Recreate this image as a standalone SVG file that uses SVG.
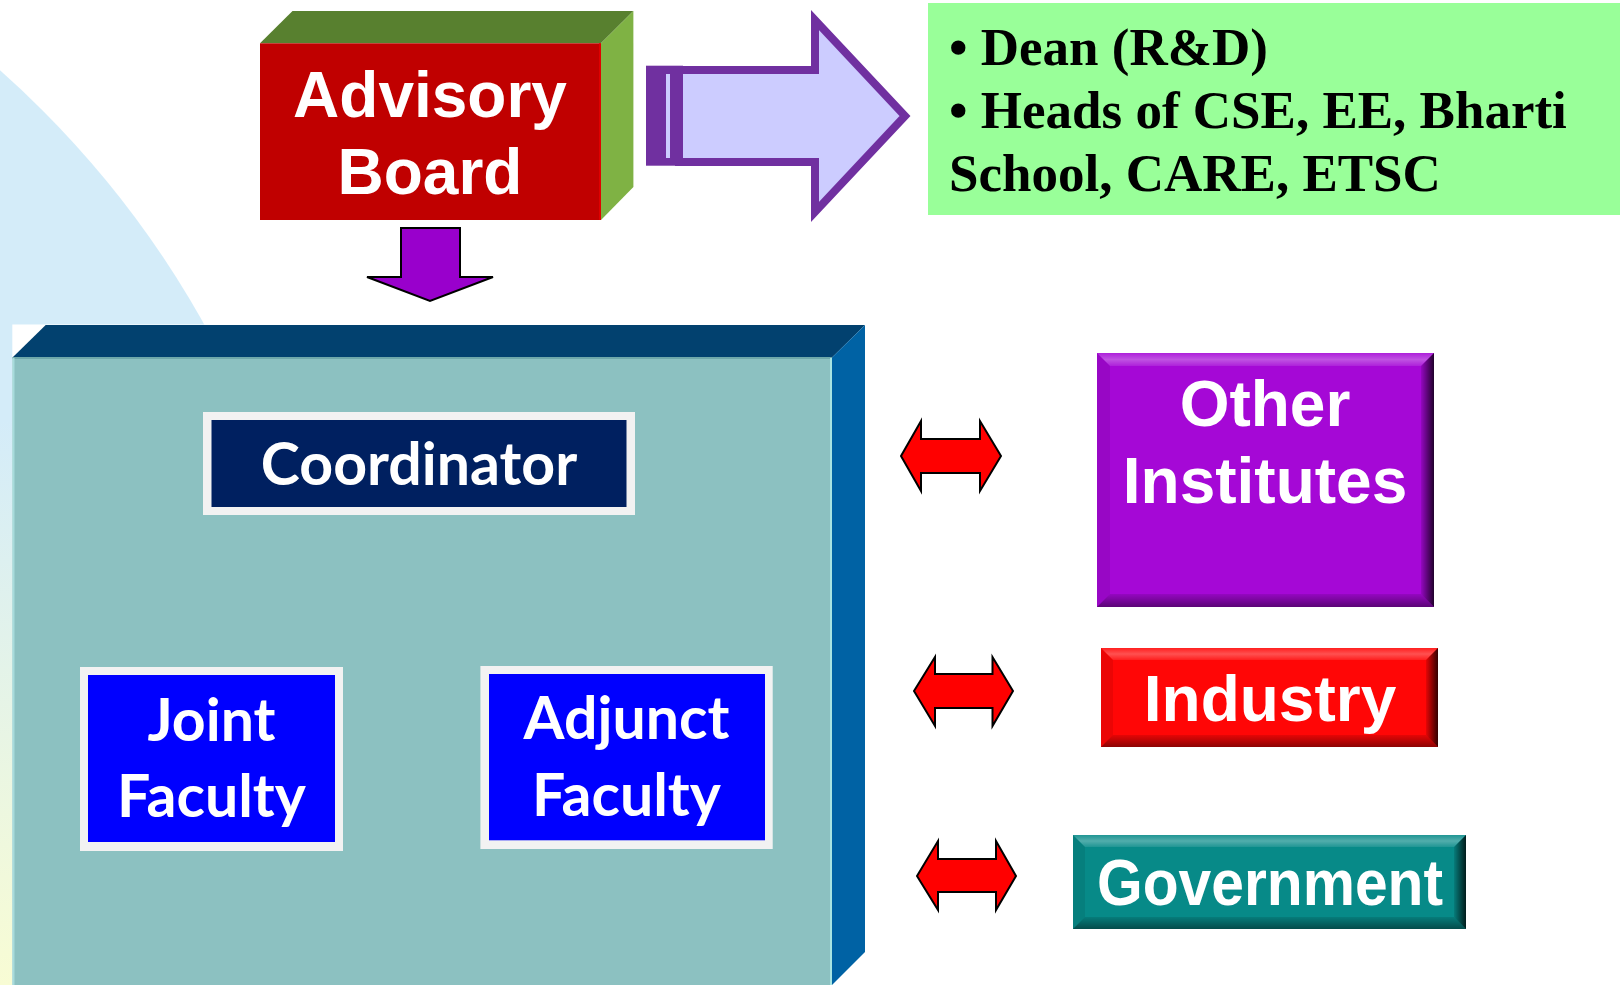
<svg xmlns="http://www.w3.org/2000/svg" width="1622" height="985" viewBox="0 0 1622 985">
<style>
.ar{font-family:"Liberation Sans",Arial,sans-serif;font-weight:bold;fill:#fff;text-anchor:middle}
.cb{font-family:Lato,"Open Sans",sans-serif;font-weight:bold;fill:#fff;text-anchor:middle}
.tm{font-family:"Liberation Serif","Times New Roman",serif;font-weight:bold;fill:#000}
.dbl{fill:#FF0000;stroke:#000;stroke-width:2;stroke-linejoin:miter}
</style>
<defs>
<linearGradient id="bgG" gradientUnits="userSpaceOnUse" x1="0" y1="420" x2="0" y2="985">
<stop offset="0" stop-color="#D4ECF9"/><stop offset="1" stop-color="#F8FCD4"/>
</linearGradient>
<linearGradient id="bvR" x1="0" y1="0" x2="1" y2="0">
<stop offset="0" stop-color="#000" stop-opacity="0.1"/><stop offset="1" stop-color="#000" stop-opacity="0.8"/>
</linearGradient>
<linearGradient id="bvB" x1="0" y1="0" x2="0" y2="1">
<stop offset="0" stop-color="#000" stop-opacity="0.1"/><stop offset="1" stop-color="#000" stop-opacity="0.45"/>
</linearGradient>
<linearGradient id="bvT" x1="0" y1="0" x2="0" y2="1">
<stop offset="0" stop-color="#fff" stop-opacity="0.1"/><stop offset="0.5" stop-color="#fff" stop-opacity="0.3"/><stop offset="1" stop-color="#fff" stop-opacity="0.1"/>
</linearGradient>
</defs>
<rect width="1622" height="985" fill="#fff"/>
<circle cx="-644" cy="797" r="971" fill="url(#bgG)"/>

<g id="advisory-board">
<polygon points="260,43.3 292.5,11 633.4,11 601,43.3" fill="#58802F"/>
<polygon points="601,43.3 633.4,11 633.4,187 601,220" fill="#7FB244"/>
<rect x="260" y="43.3" width="341" height="176.7" fill="#C00000"/>
<line x1="600" y1="43.3" x2="600" y2="220" stroke="#E00000" stroke-width="2"/>
<text class="ar" x="430" y="117" font-size="64">Advisory</text>
<text class="ar" x="430" y="194" font-size="64">Board</text>
</g>

<g id="members">
<rect x="928" y="3" width="692" height="212" fill="#99FF99"/>
<text class="tm" x="949" y="65" font-size="53">• Dean (R&amp;D)</text>
<text class="tm" x="949" y="128" font-size="53">• Heads of CSE, EE, Bharti</text>
<text class="tm" x="949" y="191" font-size="53">School, CARE, ETSC</text>
</g>

<g id="centre">
<rect x="12.3" y="324.5" width="853" height="661" fill="#fff"/>
<polygon points="12.5,357.5 45.7,325 865,325 832,357.5" fill="#02416F"/>
<polygon points="832,357.5 865,325 865,952 832,985" fill="#0062A4"/>
<rect x="12.5" y="357.5" width="819.5" height="628" fill="#8CC1C1"/>
<line x1="12.5" y1="358" x2="832" y2="358" stroke="#6FA8AA" stroke-width="2"/>
<line x1="831" y1="358" x2="831" y2="985" stroke="#A8E4E2" stroke-width="2"/>
<line x1="13.5" y1="358" x2="13.5" y2="985" stroke="#A8DCDC" stroke-width="2"/>
</g>

<g id="coordinator">
<rect x="203" y="412" width="432" height="103" fill="#F2F2F2"/>
<rect x="211.5" y="420" width="415" height="87" fill="#002060"/>
<text class="cb" x="419" y="485" font-size="59">Coordinator</text>
</g>

<g id="joint-faculty">
<rect x="80" y="667" width="263" height="184" fill="#F2F2F2"/>
<rect x="88" y="675" width="247" height="167" fill="#0000FF"/>
<text class="cb" x="211.5" y="741" font-size="59">Joint</text>
<text class="cb" x="211.5" y="817" font-size="59">Faculty</text>
</g>

<g id="adjunct-faculty">
<rect x="480.4" y="666" width="292.3" height="183" fill="#F2F2F2"/>
<rect x="489" y="674" width="276" height="166.3" fill="#0000FF"/>
<text class="cb" x="626.5" y="739" font-size="59">Adjunct</text>
<text class="cb" x="626.5" y="816" font-size="59">Faculty</text>
</g>

<g id="other-institutes">
<rect x="1097" y="353" width="337" height="254" fill="#A508D6"/>
<polygon points="1097,353 1434,353 1421,366 1110,366" fill="url(#bvT)"/>
<polygon points="1097,607 1434,607 1421,594 1110,594" fill="url(#bvB)"/>
<polygon points="1097,353 1110,366 1110,594 1097,607" fill="#000" fill-opacity="0.08"/>
<polygon points="1434,353 1421,366 1421,594 1434,607" fill="url(#bvR)"/>
<text class="ar" x="1265" y="426" font-size="64">Other</text>
<text class="ar" x="1265" y="503" font-size="64">Institutes</text>
</g>

<g id="industry">
<rect x="1101" y="648" width="337" height="99" fill="#FF0606"/>
<polygon points="1101,648 1438,648 1426,660 1113,660" fill="url(#bvT)"/>
<polygon points="1101,747 1438,747 1426,735 1113,735" fill="url(#bvB)"/>
<polygon points="1101,648 1113,660 1113,735 1101,747" fill="#000" fill-opacity="0.08"/>
<polygon points="1438,648 1426,660 1426,735 1438,747" fill="url(#bvR)"/>
<text class="ar" x="1270" y="721" font-size="64">Industry</text>
</g>

<g id="government">
<rect x="1073" y="835" width="393" height="94" fill="#078A88"/>
<polygon points="1073,835 1466,835 1454,847 1085,847" fill="url(#bvT)"/>
<polygon points="1073,929 1466,929 1454,917 1085,917" fill="url(#bvB)"/>
<polygon points="1073,835 1085,847 1085,917 1073,929" fill="#000" fill-opacity="0.08"/>
<polygon points="1466,835 1454,847 1454,917 1466,929" fill="url(#bvR)"/>
<text class="ar" x="1270" y="905" font-size="64" textLength="346" lengthAdjust="spacingAndGlyphs">Government</text>
</g>

<g id="connectors">
<rect x="646" y="65.7" width="37" height="100" fill="#7030A0"/>
<polygon points="679,70 815,70 815,20 905,116 815,212 815,162 679,162" fill="#CCCCFF" stroke="#7030A0" stroke-width="8" stroke-miterlimit="6"/>
<rect x="666" y="74" width="4" height="84" fill="#CCCCFF"/>
<polygon points="401,228 460,228 460,277 493,277 430,301 367,277 401,277" fill="#9900CC" stroke="#000" stroke-width="2"/>
<polygon class="dbl" points="901,456 921,421 921,439 980,439 980,421 1001,456 980,491 980,473 921,473 921,491"/>
<polygon class="dbl" points="914,691 935,657 935,674 992.5,674 992.5,657 1013,691 992.5,726 992.5,708 935,708 935,726"/>
<polygon class="dbl" points="917,876 938,841 938,859 996,859 996,841 1016,876 996,910 996,892 938,892 938,910"/>
</g>
</svg>
